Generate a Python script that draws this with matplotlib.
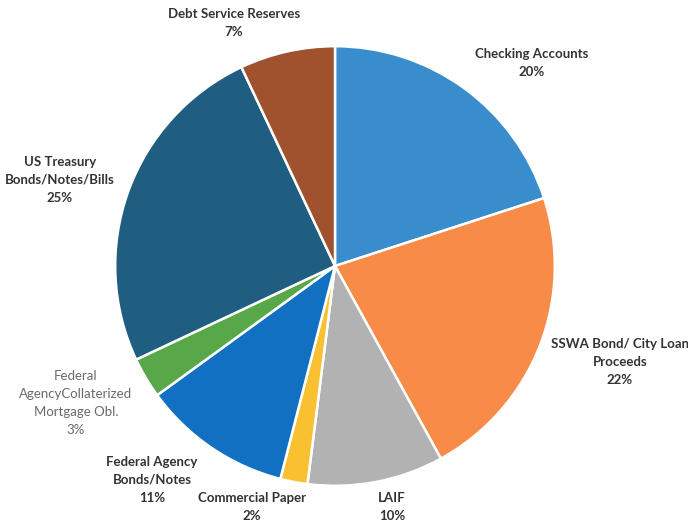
import matplotlib.pyplot as plt

# data (percent of portfolio)
categorias = ['Checking Accounts', 'SSWA Bond/ City Loan\nProceeds', 'LAIF', 'Commercial Paper',
              'Federal Agency\nBonds/Notes', 'Federal\nAgencyCollaterized\nMortgage Obl.',
              'US Treasury\nBonds/Notes/Bills', 'Debt Service Reserves']
valores = [20, 22, 10, 2, 11, 3, 25, 7]
cores = ['#3a8dcd', '#f78b47', '#b2b2b2', '#f9c032', '#1170c1', '#58a84a', '#1f5e80', '#a0522e']

# label centres in pixels (x, y of the top line)
pos_rotulos = [(532, 48), (620, 338), (392, 492), (252, 492), (152, 456), (76, 370), (60, 156), (234, 8)]

W, H = 688, 527
fig = plt.figure(figsize=(W / 100, H / 100), dpi=100)
cx, cy, r = 335, 266, 222
ax = fig.add_axes([(cx - r) / W, (H - cy - r) / H, 2 * r / W, 2 * r / H])

ax.pie(valores, colors=cores, startangle=90, counterclock=False,
       wedgeprops=dict(edgecolor='white', linewidth=1.8))
ax.set_xlim(-1.01, 1.01)
ax.set_ylim(-1.01, 1.01)
ax.set_aspect('auto')
ax.axis('off')

for nome, v, (px, py) in zip(categorias, valores, pos_rotulos):
    texto = f'{nome}\n{v}%'
    if 'Collaterized' in nome:
        fig.text(px / W, 1 - py / H, texto, ha='center', va='top', fontsize=9.5,
                 family='Lato', color='#6a6a6a', linespacing=1.6)
    else:
        fig.text(px / W, 1 - py / H, texto, ha='center', va='top', fontsize=9.5,
                 family='Lato', fontweight='bold', color='#333333', linespacing=1.6)

fig.savefig('out.png', dpi=100)
